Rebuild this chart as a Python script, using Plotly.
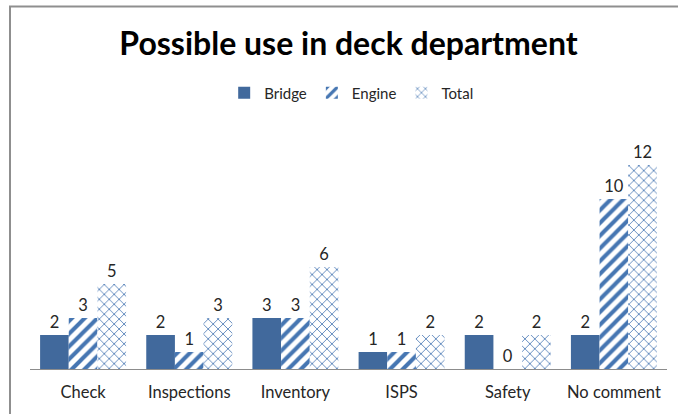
import plotly.graph_objects as go

categories = ["Check", "Inspections", "Inventory", "ISPS", "Safety", "No comment"]
bridge = [2, 2, 3, 1, 2, 2]
engine = [3, 1, 3, 1, 0, 10]
total = [5, 3, 6, 2, 2, 12]

FONT = "Lato"
SOLID = "#41699C"
HATCH = "#4676B2"
LABEL = dict(family=FONT, size=16.5, color="#262626")

fig = go.Figure()
fig.add_trace(go.Bar(
    name="Bridge", x=categories, y=bridge, text=bridge,
    marker=dict(color=SOLID, line=dict(width=0)),
))
fig.add_trace(go.Bar(
    name="Engine", x=categories, y=engine, text=engine,
    marker=dict(color="white", line=dict(width=0),
                pattern=dict(shape="/", fgcolor=HATCH, bgcolor="white", fgopacity=1,
                             size=9, solidity=0.45, fillmode="overlay")),
))
fig.add_trace(go.Bar(
    name="Total", x=categories, y=total, text=total,
    marker=dict(color="white", line=dict(width=0),
                pattern=dict(shape="x", fgcolor=HATCH, bgcolor="white", fgopacity=1,
                             size=7, solidity=0.22, fillmode="overlay")),
))
fig.update_traces(textposition="outside", textfont=LABEL, cliponaxis=False)

fig.update_layout(
    width=678, height=414,
    margin=dict(l=30, r=11, t=131, b=45),
    paper_bgcolor="white", plot_bgcolor="white",
    barmode="group", bargap=0.19, bargroupgap=0,
    title=dict(text="<b>Possible use in deck department</b>",
               font=dict(family=FONT, size=32, color="black"),
               xref="paper", x=0.5, xanchor="center", y=0.895, yanchor="middle"),
    legend=dict(orientation="h", x=0.505, xanchor="center", y=1.16, yanchor="middle",
                font=dict(family=FONT, size=15, color="#262626"),
                itemwidth=30, tracegroupgap=0),
    xaxis=dict(showline=True, linecolor="#8C8C8C", linewidth=1, ticks="",
               ticklabelstandoff=8,
               tickfont=dict(family=FONT, size=16.5, color="#262626"), showgrid=False),
    yaxis=dict(range=[0, 14], visible=False, showgrid=False),
    shapes=[dict(type="rect", xref="paper", yref="paper",
                 x0=-0.0314, x1=1.08, y0=-0.25, y1=1.523,
                 line=dict(color="#8F8F8F", width=2), fillcolor="rgba(0,0,0,0)")],
)

fig.write_html("out.html")
